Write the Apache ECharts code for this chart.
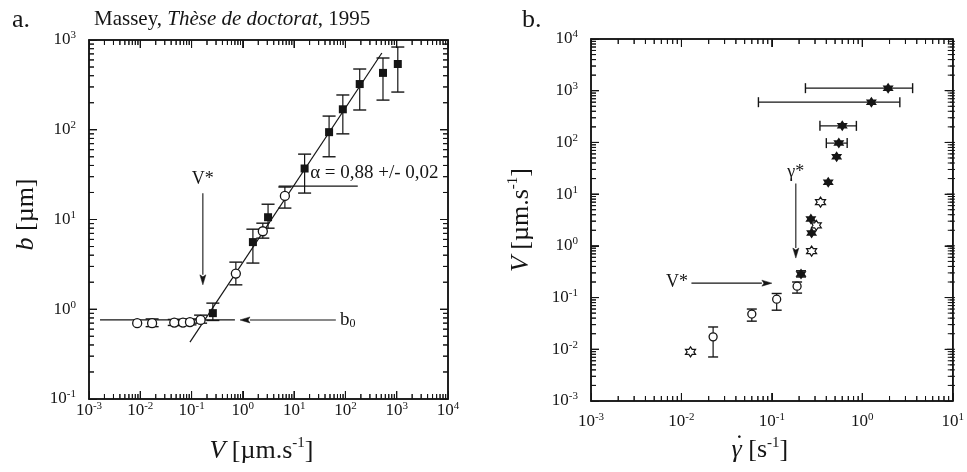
<!DOCTYPE html>
<html><head><meta charset="utf-8">
<script src="https://cdn.jsdelivr.net/npm/echarts@6/dist/echarts.min.js"></script>
<style>html,body{margin:0;padding:0;background:#fff}#c{width:967px;height:472px}</style>
</head><body><div id="c"></div>
<script>
const FONT = 'Liberation Serif';
const INK = '#151515';

// ---------- Panel a (Massey) ----------
const aXExp = [-3, -2, -1, 0, 1, 2, 3, 4];
const aYExp = [-1, 0, 1, 2, 3];
const aOpenV  = [0.0087, 0.017, 0.046, 0.068, 0.093, 0.15, 0.73, 2.45, 6.6];
const aOpenB  = [0.70, 0.70, 0.71, 0.71, 0.72, 0.76, 2.5, 7.4, 18.3];
const aOpenLo = [null, 0.64, 0.66, 0.66, 0.67, 0.70, 1.87, 6.2, 13.4];
const aOpenHi = [null, 0.78, 0.77, 0.77, 0.78, 0.86, 3.35, 9.1, 23];
const aFillV  = [0.26, 1.57, 3.1, 16, 48, 89, 190, 540, 1050];
const aFillB  = [0.905, 5.6, 10.6, 37, 94, 169, 323, 430, 540];
const aFillLo = [0.75, 3.27, 8.0, 19.7, 50, 90, 166, 214, 263];
const aFillHi = [1.17, 7.8, 14.8, 53.5, 142, 244, 475, 630, 835];
const aFitV = [0.093, 513];
const aFitB = [0.43, 716];
const aB0 = 0.76;
const aB0Span = [0.00164, 0.70];
const aB0Arrow = [65, 0.88];
const aVstarX = 0.166;
const aVstarSpan = [19.6, 1.87];
const aAlphaLine = [5.0, 174];
const aAlphaY = 23.5;

// ---------- Panel b ----------
const bXExp = [-3, -2, -1, 0, 1];
const bYExp = [-3, -2, -1, 0, 1, 2, 3, 4];
const bCircG  = [0.0224, 0.060, 0.113, 0.19];
const bCircV  = [0.0174, 0.048, 0.093, 0.166];
const bCircLo = [0.0071, 0.035, 0.057, 0.122];
const bCircHi = [0.027, 0.060, 0.12, 0.20];
const bOpenStarG = [0.0126, 0.275, 0.31, 0.345];
const bOpenStarV = [0.0089, 0.79, 2.5, 7.0];
const bFillG  = [0.21, 0.275, 0.27, 0.42, 0.52, 0.55, 0.60, 1.26, 1.93];
const bFillV  = [0.285, 1.77, 3.3, 17, 53, 97, 209, 600, 1120];
const bFillVLo = [0.25, null, null, null, null, null, null, null, null];
const bFillVHi = [0.33, null, null, null, null, null, null, null, null];
const bFillGLo = [null, null, null, null, null, 0.40, 0.34, 0.071, 0.235];
const bFillGHi = [null, null, null, null, null, 0.68, 0.86, 2.6, 3.6];
const bGstarX = 0.184;
const bGstarSpan = [16, 0.58];
const bVstarY = 0.19;
const bVstarSpan = [0.0129, 0.1];

const GRID_A = {left: 89, top: 40, width: 359, height: 359};
const GRID_B = {left: 591, top: 39, width: 364, height: 362};

const STAR = 'path://M0,-10L2.887,-5L8.66,-5L5.774,0L8.66,5L2.887,5L0,10L-2.887,5L-8.66,5L-5.774,0L-8.66,-5L-2.887,-5Z';

function ln(x1, y1, x2, y2, w) {
  return {type: 'line', shape: {x1, y1, x2, y2}, style: {stroke: INK, lineWidth: w || 1.2}};
}
function pairs(xs, ys) { return xs.map((x, i) => [x, ys[i]]); }

function innerLogValues(exps) {
  const out = [];
  const lo = exps[0], hi = exps[exps.length - 1];
  for (let e = lo; e < hi; e++) for (let k = 1; k <= 9; k++) {
    if (e === lo && k === 1) continue;
    out.push([k * Math.pow(10, e), k === 1 ? 1 : 0]);
  }
  return out;
}

function tickSeries(idx, xExp, yExp) {
  const xMid = Math.pow(10, (xExp[0] + xExp[xExp.length - 1]) / 2);
  const yMid = Math.pow(10, (yExp[0] + yExp[yExp.length - 1]) / 2);
  const xs = innerLogValues(xExp).map(t => [t[0], yMid, t[1], 0]);
  const ys = innerLogValues(yExp).map(t => [xMid, t[0], t[1], 1]);
  return {
    type: 'custom', xAxisIndex: idx, yAxisIndex: idx, z: 4, silent: true,
    data: xs.concat(ys), encode: {x: 0, y: 1},
    renderItem: function (p, api) {
      const cs = p.coordSys;
      const c = api.coord([api.value(0), api.value(1)]);
      const len = api.value(2) ? 8 : 5;
      if (!api.value(3)) {
        const b = cs.y + cs.height, t = cs.y;
        return {type: 'group', children: [ln(c[0], b, c[0], b - len, 1), ln(c[0], t, c[0], t + len, 1)]};
      }
      const l = cs.x, r = cs.x + cs.width;
      return {type: 'group', children: [ln(l, c[1], l + len, c[1], 1), ln(r, c[1], r - len, c[1], 1)]};
    }
  };
}

function tickGraphics(chart, idx, g, xExp, yExp) {
  const els = [];
  const gl = (x1, y1, x2, y2) => ({type: 'line', silent: true, z: 50, shape: {x1, y1, x2, y2}, style: {stroke: INK, lineWidth: 1}});
  const b = g.top + g.height, t = g.top, l = g.left, r = g.left + g.width;
  innerLogValues(xExp).forEach(tv => {
    const px = chart.convertToPixel({xAxisIndex: idx}, tv[0]);
    if (typeof px !== 'number' || !isFinite(px)) return;
    const len = tv[1] ? 8 : 5;
    els.push(gl(px, b, px, b - len), gl(px, t, px, t + len));
  });
  innerLogValues(yExp).forEach(tv => {
    const py = chart.convertToPixel({yAxisIndex: idx}, tv[0]);
    if (typeof py !== 'number' || !isFinite(py)) return;
    const len = tv[1] ? 8 : 5;
    els.push(gl(l, py, l + len, py), gl(r, py, r - len, py));
  });
  return els;
}

function errYSeries(idx, xs, ys, lo, hi, cap) {
  const data = [];
  xs.forEach((x, i) => { if (lo[i] != null) data.push([x, ys[i], lo[i], hi[i]]); });
  return {
    type: 'custom', xAxisIndex: idx, yAxisIndex: idx, z: 3, silent: true, data,
    encode: {x: 0, y: [2, 3]},
    renderItem: function (p, api) {
      const a = api.coord([api.value(0), api.value(2)]);
      const b = api.coord([api.value(0), api.value(3)]);
      return {type: 'group', children: [
        ln(a[0], a[1], b[0], b[1]),
        ln(a[0] - cap, a[1], a[0] + cap, a[1], 1.4),
        ln(b[0] - cap, b[1], b[0] + cap, b[1], 1.4)
      ]};
    }
  };
}

function errXSeries(idx, xs, ys, lo, hi, cap) {
  const data = [];
  xs.forEach((x, i) => { if (lo[i] != null) data.push([x, ys[i], lo[i], hi[i]]); });
  return {
    type: 'custom', xAxisIndex: idx, yAxisIndex: idx, z: 3, silent: true, data,
    encode: {x: [2, 3], y: 1},
    renderItem: function (p, api) {
      const a = api.coord([api.value(2), api.value(1)]);
      const b = api.coord([api.value(3), api.value(1)]);
      return {type: 'group', children: [
        ln(a[0], a[1], b[0], b[1]),
        ln(a[0], a[1] - cap, a[0], a[1] + cap, 1.4),
        ln(b[0], b[1] - cap, b[0], b[1] + cap, 1.4)
      ]};
    }
  };
}

function arrowSeries(idx, segs) {
  return {
    type: 'custom', xAxisIndex: idx, yAxisIndex: idx, z: 2, silent: true, data: segs,
    encode: {x: [0, 2], y: [1, 3]},
    renderItem: function (p, api) {
      const a = api.coord([api.value(0), api.value(1)]);
      const b = api.coord([api.value(2), api.value(3)]);
      const dx = b[0] - a[0], dy = b[1] - a[1];
      const d = Math.sqrt(dx * dx + dy * dy);
      const ux = dx / d, uy = dy / d;
      const hl = 10, hw = 3;
      const bx = b[0] - ux * hl, by = b[1] - uy * hl;
      return {type: 'group', children: [
        ln(a[0], a[1], bx, by, 1.1),
        {type: 'polygon', shape: {points: [[b[0], b[1]], [bx - uy * hw, by + ux * hw], [bx + ux * 2, by + uy * 2], [bx + uy * hw, by - ux * hw]]},
         style: {fill: INK, stroke: INK, lineWidth: 0.5}}
      ]};
    }
  };
}

function textSeries(idx, items) {
  return {
    type: 'custom', xAxisIndex: idx, yAxisIndex: idx, z: 6, silent: true,
    data: items.map(t => [t.x, t.y]), encode: {x: 0, y: 1},
    renderItem: function (p, api) {
      const t = items[p.dataIndex];
      const c = api.coord([api.value(0), api.value(1)]);
      return {type: 'text', x: c[0], y: c[1], style: {
        text: t.text, fontFamily: FONT, fontSize: t.size || 18, fill: INK,
        align: t.align || 'center', verticalAlign: 'middle', rich: t.rich || {}
      }};
    }
  };
}

const labelRich = {
  b: {fontFamily: FONT, fontSize: 17, color: INK, lineHeight: 20},
  s: {fontFamily: FONT, fontSize: 11, color: INK, verticalAlign: 'top', lineHeight: 12}
};
function expFmt(v) { return '{b|10}{s|' + Math.round(Math.log10(v)) + '}'; }

const nameRich = {
  i: {fontFamily: FONT, fontSize: 26, fontStyle: 'italic', color: INK, lineHeight: 30},
  n: {fontFamily: FONT, fontSize: 26, color: INK, lineHeight: 30},
  s: {fontFamily: FONT, fontSize: 15, color: INK, verticalAlign: 'top', lineHeight: 14}
};

function logAxis(gridIndex, exps, margin, extra) {
  return Object.assign({
    type: 'log', logBase: 10, gridIndex,
    min: Math.pow(10, exps[0]), max: Math.pow(10, exps[exps.length - 1]),
    splitLine: {show: false}, minorTick: {show: false},
    axisTick: {show: true, inside: true, length: 8, lineStyle: {color: INK, width: 1}},
    axisLine: {show: true, lineStyle: {color: INK, width: 1.5}},
    axisLabel: {formatter: expFmt, rich: labelRich, margin, color: INK, showMinLabel: true, showMaxLabel: true, hideOverlap: false},
    nameLocation: 'middle'
  }, extra);
}
// mirror axes on the top/right sides: major ticks only
function mirrorAxis(gridIndex, exps, position) {
  return {
    type: 'log', logBase: 10, gridIndex, position,
    min: Math.pow(10, exps[0]), max: Math.pow(10, exps[exps.length - 1]),
    splitLine: {show: false}, minorTick: {show: false}, axisLabel: {show: false},
    axisLine: {show: true, lineStyle: {color: INK, width: 1.5}},
    axisTick: {show: true, inside: true, length: 8, lineStyle: {color: INK, width: 1}}
  };
}

const dotMark = {type: 'text', left: 735, top: 432, silent: true, z: 10, style: {text: '\u02D9', fontFamily: FONT, fontSize: 26, fill: INK}};

const option = {
  backgroundColor: '#ffffff',
  animation: false,
  title: [
    {text: 'a.', left: 7, top: 2, textStyle: {fontFamily: FONT, fontSize: 26, fontWeight: 'normal', color: INK}},
    {text: 'Massey, {i|Thèse de doctorat}, 1995', left: 89, top: 4,
     textStyle: {fontFamily: FONT, fontSize: 21, fontWeight: 'normal', color: INK,
       rich: {i: {fontFamily: FONT, fontSize: 21, fontStyle: 'italic', color: INK}}}},
    {text: 'b.', left: 517, top: 2, textStyle: {fontFamily: FONT, fontSize: 26, fontWeight: 'normal', color: INK}}
  ],
  graphic: [dotMark],
  grid: [
    Object.assign({show: true, borderColor: INK, borderWidth: 1.5}, GRID_A),
    Object.assign({show: true, borderColor: INK, borderWidth: 1.5}, GRID_B)
  ],
  xAxis: [
    logAxis(0, aXExp, 2, {name: '{i|V}{n| [µm.s}{s|-1}{n|]}', nameGap: 37,
      nameTextStyle: {rich: nameRich, padding: [0, 14, 0, 0]}}),
    logAxis(1, bXExp, 11, {name: '{i|\u03B3}{n| [s}{s|-1}{n|]}', nameGap: 34,
      nameTextStyle: {rich: nameRich, padding: [0, 24, 0, 0]}}),
    mirrorAxis(0, aXExp, 'top'),
    mirrorAxis(1, bXExp, 'top')
  ],
  yAxis: [
    logAxis(0, aYExp, 13, {name: '{i|b}{n| [µm]}', nameGap: 48,
      nameTextStyle: {rich: nameRich, padding: [0, 0, 0, 10]}}),
    logAxis(1, bYExp, 13, {name: '{i|V}{n| [µm.s}{s|-1}{n|]}', nameGap: 55,
      nameTextStyle: {rich: nameRich}}),
    mirrorAxis(0, aYExp, 'right'),
    mirrorAxis(1, bYExp, 'right')
  ],
  series: [
    tickSeries(0, aXExp, aYExp),
    tickSeries(1, bXExp, bYExp),
    {type: 'line', xAxisIndex: 0, yAxisIndex: 0, z: 2, silent: true, showSymbol: false, symbol: 'none',
     data: pairs(aFitV, aFitB), lineStyle: {color: INK, width: 1.2}},
    {type: 'line', xAxisIndex: 0, yAxisIndex: 0, z: 2, silent: true, showSymbol: false, symbol: 'none',
     data: aB0Span.map(v => [v, aB0]), lineStyle: {color: INK, width: 1.2}},
    {type: 'line', xAxisIndex: 0, yAxisIndex: 0, z: 2, silent: true, showSymbol: false, symbol: 'none',
     data: aAlphaLine.map(v => [v, aAlphaY]), lineStyle: {color: INK, width: 1.2}},
    arrowSeries(0, [[aB0Arrow[0], aB0, aB0Arrow[1], aB0], [aVstarX, aVstarSpan[0], aVstarX, aVstarSpan[1]]]),
    errYSeries(0, aOpenV, aOpenB, aOpenLo, aOpenHi, 6.5),
    errYSeries(0, aFillV, aFillB, aFillLo, aFillHi, 6.5),
    {type: 'scatter', xAxisIndex: 0, yAxisIndex: 0, z: 5, silent: true, symbol: 'circle', symbolSize: 9,
     data: pairs(aOpenV, aOpenB), itemStyle: {color: '#fff', borderColor: INK, borderWidth: 1.3, opacity: 1}},
    {type: 'scatter', xAxisIndex: 0, yAxisIndex: 0, z: 5, silent: true, symbol: 'rect', symbolSize: 8,
     data: pairs(aFillV, aFillB), itemStyle: {color: INK, opacity: 1}},
    textSeries(0, [
      {x: aVstarX, y: 28, text: 'V*', size: 18},
      {x: 78, y: aB0, text: '{t|b}{u|0}', align: 'left',
       rich: {t: {fontFamily: FONT, fontSize: 19, color: INK, lineHeight: 20}, u: {fontFamily: FONT, fontSize: 12, color: INK, verticalAlign: 'bottom', lineHeight: 12}}},
      {x: 20.5, y: 33, text: '\u03B1 = 0,88 +/- 0,02', align: 'left', size: 19}
    ]),
    arrowSeries(1, [[bGstarX, bGstarSpan[0], bGstarX, bGstarSpan[1]], [bVstarSpan[0], bVstarY, bVstarSpan[1], bVstarY]]),
    errYSeries(1, bCircG, bCircV, bCircLo, bCircHi, 5),
    errYSeries(1, bFillG, bFillV, bFillVLo, bFillVHi, 5),
    errXSeries(1, bFillG, bFillV, bFillGLo, bFillGHi, 5),
    {type: 'scatter', xAxisIndex: 1, yAxisIndex: 1, z: 5, silent: true, symbol: 'circle', symbolSize: 8,
     data: pairs(bCircG, bCircV), itemStyle: {color: '#fff', borderColor: INK, borderWidth: 1.3, opacity: 1}},
    {type: 'scatter', xAxisIndex: 1, yAxisIndex: 1, z: 5, silent: true, symbol: STAR, symbolSize: 10,
     data: pairs(bOpenStarG, bOpenStarV), itemStyle: {color: '#fff', borderColor: INK, borderWidth: 1.2, opacity: 1}},
    {type: 'scatter', xAxisIndex: 1, yAxisIndex: 1, z: 5, silent: true, symbol: STAR, symbolSize: 11,
     data: pairs(bFillG, bFillV), itemStyle: {color: INK, opacity: 1}},
    textSeries(1, [
      {x: bGstarX, y: 27, text: '\u03B3*', size: 18},
      {x: 0.0118, y: 0.2, text: 'V*', align: 'right', size: 18}
    ])
  ]
};

const chart = echarts.init(document.getElementById('c'), null, {renderer: 'canvas'});
chart.setOption(option);
try {
  const ticks = [].concat(
    tickGraphics(chart, 0, GRID_A, aXExp, aYExp),
    tickGraphics(chart, 1, GRID_B, bXExp, bYExp)
  );
  chart.setOption({graphic: [dotMark].concat(ticks)});
} catch (e) { /* keep the axis ticks */ }
</script></body></html>
